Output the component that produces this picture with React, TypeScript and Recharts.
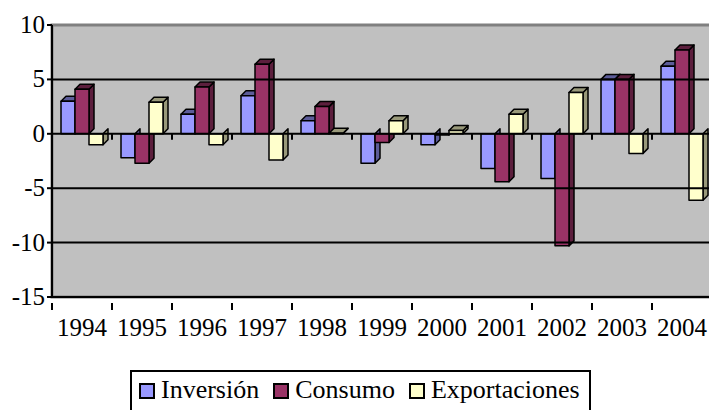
import { Bar, BarChart, ReferenceArea, ReferenceLine, XAxis, YAxis } from "recharts";

const YEARS = ["1994", "1995", "1996", "1997", "1998", "1999", "2000", "2001", "2002", "2003", "2004"];
const INVERSION = [3.0, -2.2, 1.8, 3.5, 1.2, -2.7, -1.0, -3.2, -4.1, 5.0, 6.2];
const CONSUMO = [4.1, -2.7, 4.3, 6.4, 2.5, -0.8, -0.1, -4.4, -10.3, 5.0, 7.7];
const EXPORTACIONES = [-1.0, 2.9, -1.0, -2.4, 0.05, 1.2, 0.3, 1.8, 3.8, -1.8, -6.1];
const Y_TICKS = [-15, -10, -5, 0, 5, 10];

const SERIES = [
  { key: "inversion", name: "Inversión", fill: "#9999FF", side: "#5c5c99", values: INVERSION },
  { key: "consumo", name: "Consumo", fill: "#993366", side: "#5c1f3d", values: CONSUMO },
  { key: "exportaciones", name: "Exportaciones", fill: "#FFFFCC", side: "#99997a", values: EXPORTACIONES },
];

const data = YEARS.map((year, i) => ({
  year,
  inversion: INVERSION[i],
  consumo: CONSUMO[i],
  exportaciones: EXPORTACIONES[i],
}));

const FONT = '"Liberation Serif", "DejaVu Serif", serif';
const W = 720;
const H = 345;
const M = { top: 25, right: 8, left: 0, bottom: 0 };
const Y_W = 52;
const X_H = 48;
const PLOT_W = W - M.left - M.right - Y_W;
const PLOT_H = H - M.top - M.bottom - X_H;
const BAND = PLOT_W / YEARS.length;
const ZERO_Y = M.top + (10 / 25) * PLOT_H;
const DEPTH = 5;

// front face + right (and, for positive values, top) face, Excel-style 3D column
function Column(props: any) {
  const { x, y, width, height, fill, side, value } = props;
  const top = Math.min(y, y + height);
  const h = Math.abs(height);
  if (!width) return null;
  const d = DEPTH;
  const v = Array.isArray(value) ? value[1] : value;
  return (
    <g stroke="#000" strokeWidth={1.5} strokeLinejoin="round">
      <polygon
        points={`${x + width},${top} ${x + width + d},${top - d} ${x + width + d},${top + h - d} ${x + width},${top + h}`}
        fill={side}
      />
      {v >= 0 && (
        <polygon
          points={`${x},${top} ${x + d},${top - d} ${x + width + d},${top - d} ${x + width},${top}`}
          fill={side}
        />
      )}
      <rect x={x} y={top} width={width} height={h} fill={fill} />
    </g>
  );
}

function YearTick(props: any) {
  const { x, y, payload } = props;
  const left = x - BAND / 2;
  return (
    <g>
      <line x1={left} y1={y - 2} x2={left} y2={y + 5} stroke="#000" strokeWidth={2} />
      <line x1={left} y1={ZERO_Y} x2={left} y2={ZERO_Y + 6} stroke="#000" strokeWidth={2} />
      <text x={x} y={y + 31} textAnchor="middle" fontSize={25} style={{ fontFamily: FONT }} fill="#000">
        {payload.value}
      </text>
    </g>
  );
}

function YTick(props: any) {
  const { x, y, payload } = props;
  return (
    <text x={x} y={y + 8} textAnchor="end" fontSize={25} style={{ fontFamily: FONT }} fill="#000">
      {payload.value}
    </text>
  );
}

function Legend() {
  return (
    <div
      style={{
        position: "absolute",
        left: 130,
        top: 370,
        width: 461,
        height: 44,
        border: "2px solid #000",
        display: "flex",
        alignItems: "flex-start",
        justifyContent: "flex-start",
        fontFamily: FONT,
        fontSize: 26,
        lineHeight: "34px",
        gap: 14,
        paddingLeft: 7,
        paddingTop: 1,
        boxSizing: "border-box",
      }}
    >
      {SERIES.map((s) => (
        <div key={s.key} style={{ display: "flex", alignItems: "center" }}>
          <span
            style={{
              display: "inline-block",
              width: 12,
              height: 12,
              background: s.fill,
              border: "2px solid #000",
              marginRight: 6,
              marginTop: 2,
            }}
          />
          <span>{s.name}</span>
        </div>
      ))}
    </div>
  );
}

export default function App() {
  return (
    <div style={{ position: "relative", width: 709, height: 410, overflow: "hidden", background: "#fff" }}>
      <style>{"body{margin:0}"}</style>
      <BarChart width={W} height={H} data={data} margin={M} barGap={0} barSize={14}>
        <ReferenceArea y1={-15} y2={10} fill="#C0C0C0" fillOpacity={1} stroke="#808080" strokeWidth={3} />
        {[5, -5, -10].map((v) => (
          <ReferenceLine key={v} y={v} stroke="#000" strokeWidth={2} />
        ))}
        <ReferenceLine y={0} stroke="#000" strokeWidth={2} />
        <XAxis
          dataKey="year"
          height={X_H}
          tick={<YearTick />}
          tickLine={false}
          axisLine={{ stroke: "#000", strokeWidth: 2 }}
          interval={0}
        />
        <YAxis
          width={Y_W}
          domain={[-15, 10]}
          ticks={Y_TICKS}
          interval={0}
          tick={<YTick />}
          tickLine={{ stroke: "#000", strokeWidth: 2 }}
          tickSize={5}
          axisLine={{ stroke: "#000", strokeWidth: 2 }}
        />
        {SERIES.map((s) => (
          <Bar
            key={s.key}
            dataKey={s.key}
            name={s.name}
            fill={s.fill}
            shape={<Column side={s.side} />}
            isAnimationActive={false}
          />
        ))}
      </BarChart>
      <Legend />
    </div>
  );
}
